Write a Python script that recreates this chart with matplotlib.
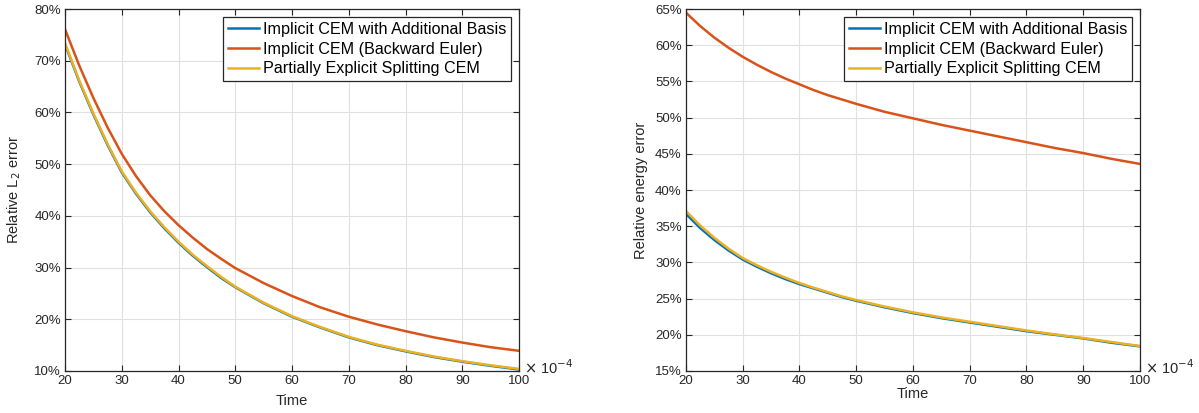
import matplotlib
matplotlib.use("Agg")
import matplotlib.pyplot as plt
from matplotlib.ticker import FuncFormatter

plt.rcParams['font.family'] = ['Liberation Sans', 'DejaVu Sans']

# time in units of 1e-4
time = [20, 22.5, 25, 27.5, 30, 32.5, 35, 37.5, 40, 42.5, 45, 47.5, 50,
        55, 60, 65, 70, 75, 80, 85, 90, 95, 100]

# relative L2 error (%)
l2_additional = [73.2, 66.0, 59.6, 53.7, 48.4, 44.3, 40.7, 37.6, 34.8, 32.3, 30.1, 28.0, 26.2,
                 23.1, 20.5, 18.4, 16.5, 15.0, 13.8, 12.7, 11.8, 11.0, 10.3]
l2_backward = [76.1, 69.1, 62.8, 57.1, 52.0, 47.7, 44.0, 40.9, 38.2, 35.8, 33.6, 31.7, 29.9,
               27.0, 24.5, 22.3, 20.5, 19.0, 17.7, 16.5, 15.5, 14.6, 13.9]
l2_splitting = [73.4, 66.2, 59.8, 53.9, 48.6, 44.5, 40.9, 37.8, 35.0, 32.5, 30.3, 28.2, 26.3,
                23.2, 20.6, 18.5, 16.6, 15.1, 13.9, 12.8, 11.9, 11.1, 10.4]

# relative energy error (%)
en_additional = [36.7, 34.75, 33.1, 31.65, 30.4, 29.4, 28.5, 27.7, 27.0, 26.4, 25.8, 25.2, 24.7,
                 23.8, 23.0, 22.3, 21.7, 21.1, 20.5, 20.0, 19.5, 18.9, 18.4]
en_backward = [64.5, 62.65, 61.05, 59.65, 58.4, 57.3, 56.3, 55.4, 54.6, 53.8, 53.1, 52.5, 51.9,
               50.8, 49.9, 49.0, 48.2, 47.4, 46.6, 45.8, 45.1, 44.3, 43.6]
en_splitting = [37.1, 35.1, 33.4, 31.9, 30.6, 29.6, 28.7, 27.9, 27.15, 26.5, 25.9, 25.3, 24.8,
                23.9, 23.1, 22.4, 21.8, 21.2, 20.6, 20.05, 19.55, 19.0, 18.45]

labels = ['Implicit CEM with Additional Basis',
          'Implicit CEM (Backward Euler)',
          'Partially Explicit Splitting CEM']
colors = ['#0072BD', '#D95319', '#EDB120']
axcol = '#262626'

fig = plt.figure(figsize=(11.99, 4.13), dpi=100)
ax1 = fig.add_axes([0.0542, 0.1017, 0.3787, 0.8765])
ax2 = fig.add_axes([0.5721, 0.1017, 0.3787, 0.8765])


def style(ax, ylim, yticks, ylabel, xpad, ypad):
    ax.set_xlim(20, 100)
    ax.set_ylim(*ylim)
    ax.set_xticks(range(20, 101, 10))
    ax.set_yticks(yticks)
    ax.yaxis.set_major_formatter(FuncFormatter(lambda v, p: f'{v:.0f}%'))
    ax.grid(True, color='#e0e0e0', linewidth=0.8)
    ax.set_axisbelow(True)
    ax.tick_params(direction='in', top=True, right=True, labelsize=9.5,
                   colors=axcol, length=4, width=0.8, pad=3)
    for s in ax.spines.values():
        s.set_color(axcol)
        s.set_linewidth(0.9)
    ax.set_xlabel('Time', fontsize=10.5, color=axcol, labelpad=xpad)
    ax.set_ylabel(ylabel, fontsize=10.5, color=axcol, labelpad=ypad)
    ax.text(1.012, 0.01, r'$\times$ 10$^{-4}$', transform=ax.transAxes,
            fontsize=10.5, color=axcol, ha='left', va='center')
    leg = ax.legend(loc='upper right', bbox_to_anchor=(0.982, 0.978),
                    borderaxespad=0, fontsize=11.6, handlelength=1.9,
                    handletextpad=0.25, borderpad=0.3, labelspacing=0.3,
                    fancybox=False, framealpha=1)
    leg.get_frame().set_edgecolor(axcol)
    leg.get_frame().set_linewidth(0.9)


for series, c, lab in zip([l2_additional, l2_backward, l2_splitting], colors, labels):
    ax1.plot(time, series, color=c, lw=1.8, label=lab)
style(ax1, (10, 80), range(10, 81, 10), 'Relative L$_2$ error', 5, 8)

for series, c, lab in zip([en_additional, en_backward, en_splitting], colors, labels):
    ax2.plot(time, series, color=c, lw=1.8, label=lab)
style(ax2, (15, 65), range(15, 66, 5), 'Relative energy error', 0, 5)

fig.savefig('out.png', dpi=100)
